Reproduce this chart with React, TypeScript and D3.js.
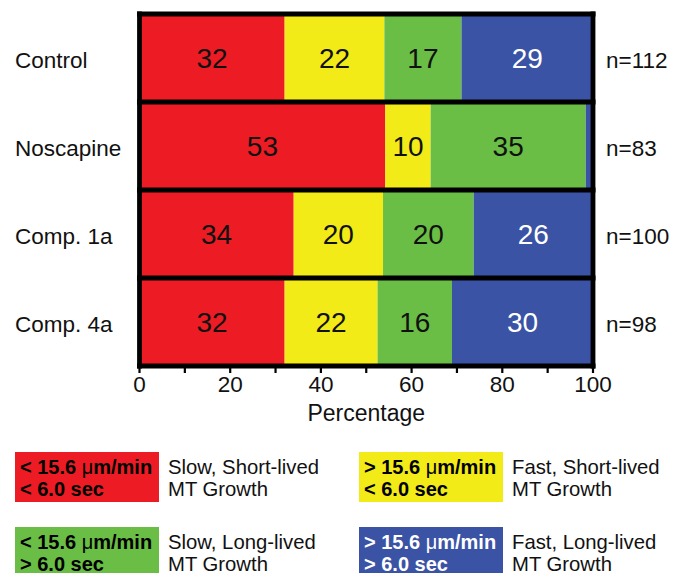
import React from "react";
import * as d3 from "d3";

const categories = ["Control", "Noscapine", "Comp. 1a", "Comp. 4a"];
const counts = ["n=112", "n=83", "n=100", "n=98"];
// segment widths (percent)
const slowShort = [32, 54.2, 34, 32];
const fastShort = [22, 10, 19.7, 20.5];
const slowLong = [17, 34.2, 20, 16.4];
const fastLong = [29, 1.6, 26.3, 31.1];
// printed labels inside segments
const slowShortLabels = ["32", "53", "34", "32"];
const fastShortLabels = ["22", "10", "20", "22"];
const slowLongLabels = ["17", "35", "20", "16"];
const fastLongLabels = ["29", "", "26", "30"];

const seriesKeys = ["slowShort", "fastShort", "slowLong", "fastLong"];
const seriesColors = ["#ED1C24", "#F2EB17", "#6ABD45", "#3A53A4"];
const seriesTextColors = ["#111", "#111", "#111", "#fff"];
const legendLine1 = ["< 15.6 ", "> 15.6 ", "< 15.6 ", "> 15.6 "];
const legendLine2 = ["< 6.0 sec", "< 6.0 sec", "> 6.0 sec", "> 6.0 sec"];
const legendDesc1 = ["Slow, Short-lived", "Fast, Short-lived", "Slow, Long-lived", "Fast, Long-lived"];
const legendDesc2 = ["MT Growth", "MT Growth", "MT Growth", "MT Growth"];
const xTicks = [0, 10, 20, 30, 40, 50, 60, 70, 80, 90, 100];

const FONT = "'Liberation Sans', Arial, Helvetica, sans-serif";

export default function App() {
  const W = 673, H = 573;
  const x = d3.scaleLinear().domain([0, 100]).range([139.5, 593]);
  const y = d3.scaleBand().domain(categories).range([14, 366]).padding(0);

  const table = categories.map((c, i) => ({
    cat: c,
    slowShort: slowShort[i],
    fastShort: fastShort[i],
    slowLong: slowLong[i],
    fastLong: fastLong[i],
  }));
  const stacked = d3.stack<any>().keys(seriesKeys)(table);
  const labels = [slowShortLabels, fastShortLabels, slowLongLabels, fastLongLabels];
  const bw = y.bandwidth();

  const legendPos = [
    { x: 15, y: 452 },
    { x: 359, y: 452 },
    { x: 15, y: 527 },
    { x: 359, y: 527 },
  ];

  return (
    <svg width={W} height={H} style={{ position: "absolute", left: 0, top: 0 }} fontFamily={FONT}>
      <rect width={W} height={H} fill="#fff" />
      {stacked.map((s, si) => (
        <g key={si}>
          {s.map((d, i) => (
            <rect
              key={i}
              x={x(d[0])}
              y={y(categories[i])!}
              width={x(d[1]) - x(d[0])}
              height={bw}
              fill={seriesColors[si]}
            />
          ))}
          {s.map((d, i) =>
            labels[si][i] ? (
              <text
                key={"t" + i}
                x={(x(d[0]) + x(d[1])) / 2}
                y={y(categories[i])! + bw / 2 + 10}
                textAnchor="middle"
                fontSize={28}
                fill={seriesTextColors[si]}
              >
                {labels[si][i]}
              </text>
            ) : null
          )}
        </g>
      ))}
      {/* frame lines */}
      {categories.map((c) => (
        <line key={c} x1={x(0) - 2.5} x2={x(100) + 2.5} y1={y(c)!} y2={y(c)!} stroke="#000" strokeWidth={4.8} />
      ))}
      <line x1={x(0) - 2.5} x2={x(100) + 2.5} y1={366} y2={366} stroke="#000" strokeWidth={4.8} />
      <line x1={x(0)} x2={x(0)} y1={11.6} y2={368.4} stroke="#000" strokeWidth={4.8} />
      <line x1={x(100)} x2={x(100)} y1={11.6} y2={368.4} stroke="#000" strokeWidth={4.8} />
      {/* axis ticks */}
      {xTicks.map((t) => (
        <line key={t} x1={x(t)} x2={x(t)} y1={366} y2={373} stroke="#000" strokeWidth={2.2} />
      ))}
      {xTicks.filter((t) => t % 20 === 0).map((t) => (
        <text key={"l" + t} x={x(t)} y={392} textAnchor="middle" fontSize={22.5} fill="#111">
          {t}
        </text>
      ))}
      <text x={(x(0) + x(100)) / 2} y={421} textAnchor="middle" fontSize={23} fill="#111">
        Percentage
      </text>
      {/* category labels */}
      {categories.map((c) => (
        <text key={c} x={15} y={y(c)! + bw / 2 + 9.5} fontSize={22.5} fill="#111">
          {c}
        </text>
      ))}
      {counts.map((n, i) => (
        <text key={n} x={606} y={y(categories[i])! + bw / 2 + 9.5} fontSize={22.5} fill="#111">
          {n}
        </text>
      ))}
      {/* legend */}
      {legendPos.map((p, i) => (
        <g key={"lg" + i} transform={`translate(${p.x},${p.y})`}>
          <rect x={0} y={0} width={144} height={50} fill={seriesColors[i]} />
          <text x={5} y={22} fontSize={20} fontWeight="bold" fill={i === 3 ? "#fff" : "#000"}>
            {legendLine1[i]}
            <tspan fontWeight="normal">{"\u03BC"}</tspan>
            {"m/min"}
          </text>
          <text x={5} y={44} fontSize={20} fontWeight="bold" fill={i === 3 ? "#fff" : "#000"}>
            {legendLine2[i]}
          </text>
          <text x={153} y={22} fontSize={20.3} fill="#111">
            {legendDesc1[i]}
          </text>
          <text x={153} y={44} fontSize={20.3} fill="#111">
            {legendDesc2[i]}
          </text>
        </g>
      ))}
    </svg>
  );
}
